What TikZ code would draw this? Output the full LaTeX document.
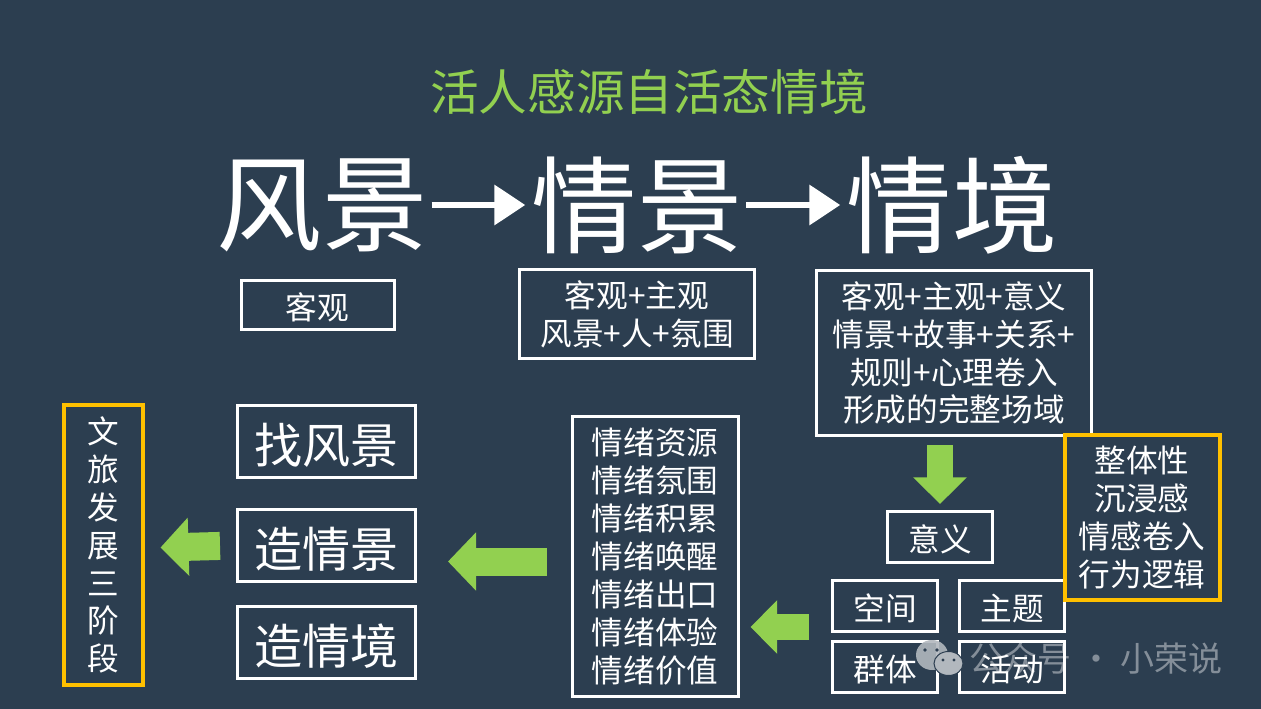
\documentclass[tikz,border=0pt]{standalone}
\usepackage{fontspec}
\setmainfont{Noto Sans CJK SC}
\usetikzlibrary{positioning,calc,arrows.meta}
\definecolor{SlideBg}{RGB}{44,62,80}
\definecolor{SlideGreen}{RGB}{146,208,80}
\definecolor{SlideOrange}{RGB}{255,192,0}
\definecolor{MarkGray}{RGB}{178,184,190}

\begin{document}
\begin{tikzpicture}[
    x=0.03cm,
    y=-0.03cm,
    whitebox/.style={draw=white, line width=0.09cm, inner sep=0pt, align=center, text=white, execute at begin node=\rule{0pt}{1em}},
    smallbox/.style={whitebox, minimum width=3.15cm, minimum height=1.53cm, font=\fontsize{27}{32.4}\selectfont},
    stagebox/.style={whitebox, minimum width=5.34cm, minimum height=2.16cm, font=\fontsize{41}{48}\selectfont},
    orangebox/.style={whitebox, draw=SlideOrange, line width=0.12cm, font=\fontsize{27}{32.4}\selectfont},
    bigword/.style={text=white, inner sep=0pt, font=\fontsize{90}{100}\selectfont},
    whitearrow/.style={draw=white, line width=0.2cm, -{Triangle[length=0.93cm,width=1.17cm]}},
    greenarrow/.style={draw=SlideGreen, line width=0.84cm, -{Triangle[length=0.84cm,width=1.7cm]}},
    greensmall/.style={draw=SlideGreen, line width=0.78cm, -{Triangle[length=0.8cm,width=1.56cm]}}
]
\fill[SlideBg] (0,0) rectangle (1261,709);
\useasboundingbox (0,0) rectangle (1261,709);

\node[text=SlideGreen, inner sep=0pt, font=\fontsize{41.5}{48}\selectfont] (headline) at (649,92) {活人感源自活态情境};
\node[bigword] (fengjing) at (322,205) {风景};
\node[bigword] (qingjing) at (637,205) {情景};
\node[bigword] (qingjingb) at (952,205) {情境};

\node[whitebox, minimum width=4.59cm, minimum height=1.44cm, font=\fontsize{27}{32.4}\selectfont] (keguan) at (317.5,305) {客观};
\node[whitebox, minimum width=7.05cm, minimum height=2.67cm, font=\fontsize{27}{32.4}\selectfont] (zhuguan) at (637,314) {客观+主观\\风景+人+氛围};
\node[whitebox, minimum width=8.25cm, minimum height=4.95cm, font=\fontsize{27}{32.4}\selectfont] (yiyibox) at (954,353) {客观+主观+意义\\情景+故事+关系+\\规则+心理卷入\\形成的完整场域};

\node[orangebox, minimum width=2.34cm, minimum height=8.37cm] (wenlv) at (103.5,545) {文\\旅\\发\\展\\三\\阶\\段};
\node[stagebox] (zhao) at (326.5,441.5) {找风景};
\node[stagebox] (zaojing) at (326.5,545.5) {造情景};
\node[stagebox] (zaojingb) at (326.5,642.5) {造情境};
\node[whitebox, minimum width=4.98cm, minimum height=8.37cm, font=\fontsize{27}{32.4}\selectfont] (qingxu) at (655,556.5) {情绪资源\\情绪氛围\\情绪积累\\情绪唤醒\\情绪出口\\情绪体验\\情绪价值};

\node[smallbox] (yiyi) at (940,537) {意义};
\node[smallbox] (kongjian) at (885,606) {空间};
\node[smallbox] (zhuti) at (1012,606) {主题};
\node[smallbox] (qunti) at (885,666.5) {群体};
\node[smallbox] (huodong) at (1012,666.5) {活动};
\node[orangebox, minimum width=4.65cm, minimum height=4.92cm, fill=SlideBg] (zhengti) at (1142,517.5) {整体性\\沉浸感\\情感卷入\\行为逻辑};

\draw[whitearrow, shorten <=0.12cm, shorten >=0.18cm] (fengjing) -- (qingjing);
\draw[whitearrow, shorten <=0.1cm, shorten >=0.18cm] (qingjing) -- (qingjingb);
\draw[greensmall, shorten <=0.24cm, shorten >=0.18cm] (yiyibox.south -| yiyi) -- (yiyi.north);
\draw[greensmall, shorten <=0.66cm, shorten >=0.33cm] ([yshift=-0.63cm]kongjian.west) -- ([yshift=-0.63cm]kongjian.west -| qingxu.east);
\draw[greenarrow, shorten <=0.72cm, shorten >=0.93cm] ([yshift=-0.15cm]qingxu.west) -- ([yshift=-0.15cm]qingxu.west -| zaojing.east);
\draw[greenarrow, shorten <=0.48cm, shorten >=0.48cm] (zaojing.west) -- ([yshift=-0.09cm]wenlv.east);

\fill[MarkGray, opacity=0.9] (932,655) ellipse (16 and 15);
\fill[SlideBg] (925,650) circle (1.8) (937,650) circle (1.8);
\filldraw[fill=MarkGray, draw=SlideBg, line width=0.03cm] (948.5,663.5) ellipse (14.5 and 12);
\fill[SlideBg] (943,660) circle (1.6) (954,660) circle (1.6);
\node[text=white, opacity=0.42, inner sep=0pt, font=\fontsize{29}{34}\selectfont] (gongzhonghao) at (1096,658) {公众号 · 小荣说};
\end{tikzpicture}
\end{document}
